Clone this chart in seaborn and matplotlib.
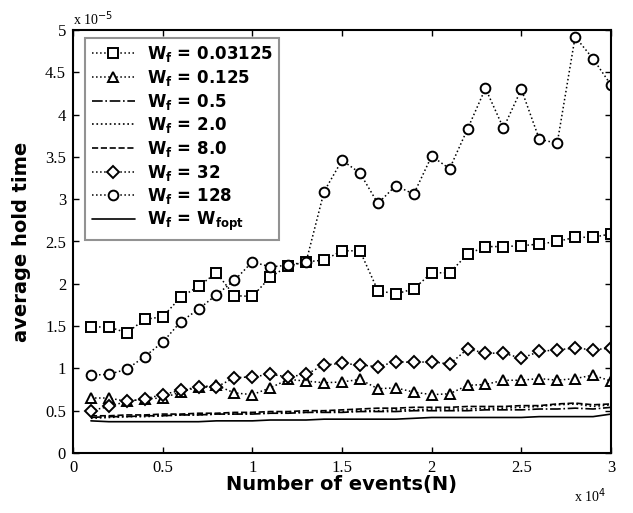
import numpy as np
import pandas as pd
import matplotlib
matplotlib.use("Agg")
import matplotlib.pyplot as plt
import seaborn as sns

# Number of events (x 10^4)
events = [0.1, 0.2, 0.3, 0.4, 0.5, 0.6, 0.7, 0.8, 0.9, 1.0,
          1.1, 1.2, 1.3, 1.4, 1.5, 1.6, 1.7, 1.8, 1.9, 2.0,
          2.1, 2.2, 2.3, 2.4, 2.5, 2.6, 2.7, 2.8, 2.9, 3.0]

# average hold time (x 10^-5)
w_003125 = [1.49, 1.49, 1.42, 1.58, 1.61, 1.84, 1.97, 2.13, 1.86, 1.85,
            2.08, 2.21, 2.26, 2.28, 2.39, 2.39, 1.92, 1.88, 1.94, 2.13,
            2.13, 2.35, 2.44, 2.44, 2.45, 2.47, 2.50, 2.55, 2.55, 2.59]
w_0125 = [0.65, 0.65, 0.61, 0.64, 0.65, 0.72, 0.78, 0.80, 0.71, 0.69,
          0.77, 0.87, 0.85, 0.83, 0.84, 0.87, 0.76, 0.77, 0.72, 0.69,
          0.70, 0.80, 0.81, 0.86, 0.86, 0.88, 0.86, 0.88, 0.92, 0.85]
w_05 = [0.42, 0.43, 0.43, 0.44, 0.44, 0.45, 0.45, 0.46, 0.46, 0.46,
        0.47, 0.47, 0.48, 0.48, 0.48, 0.49, 0.49, 0.49, 0.50, 0.50,
        0.50, 0.50, 0.51, 0.51, 0.51, 0.52, 0.52, 0.53, 0.52, 0.54]
w_20 = [0.41, 0.42, 0.43, 0.43, 0.44, 0.45, 0.45, 0.46, 0.46, 0.47,
        0.47, 0.48, 0.48, 0.49, 0.49, 0.50, 0.50, 0.51, 0.51, 0.52,
        0.52, 0.52, 0.53, 0.53, 0.54, 0.55, 0.57, 0.58, 0.55, 0.57]
w_80 = [0.44, 0.44, 0.45, 0.45, 0.46, 0.46, 0.47, 0.47, 0.48, 0.48,
        0.49, 0.49, 0.50, 0.50, 0.51, 0.52, 0.53, 0.53, 0.54, 0.54,
        0.54, 0.55, 0.55, 0.55, 0.56, 0.56, 0.58, 0.59, 0.57, 0.58]
w_32 = [0.50, 0.55, 0.61, 0.64, 0.69, 0.74, 0.78, 0.78, 0.89, 0.90,
        0.93, 0.90, 0.93, 1.04, 1.06, 1.04, 1.02, 1.08, 1.07, 1.08,
        1.05, 1.23, 1.18, 1.18, 1.12, 1.20, 1.22, 1.24, 1.22, 1.24]
w_128 = [0.92, 0.93, 0.99, 1.14, 1.31, 1.55, 1.70, 1.87, 2.04, 2.26,
         2.20, 2.22, 2.26, 3.09, 3.46, 3.31, 2.95, 3.16, 3.06, 3.51,
         3.36, 3.83, 4.31, 3.84, 4.30, 3.71, 3.66, 4.92, 4.66, 4.35]
w_fopt = [0.38, 0.37, 0.37, 0.37, 0.37, 0.37, 0.37, 0.38, 0.38, 0.38,
          0.39, 0.39, 0.39, 0.40, 0.40, 0.40, 0.40, 0.40, 0.41, 0.42,
          0.42, 0.42, 0.42, 0.42, 0.42, 0.43, 0.43, 0.43, 0.43, 0.46]

labels = [r"$\mathbf{W_f}$ = 0.03125", r"$\mathbf{W_f}$ = 0.125", r"$\mathbf{W_f}$ = 0.5",
          r"$\mathbf{W_f}$ = 2.0", r"$\mathbf{W_f}$ = 8.0", r"$\mathbf{W_f}$ = 32",
          r"$\mathbf{W_f}$ = 128", r"$\mathbf{W_f}$ = $\mathbf{W_{fopt}}$"]
series = [w_003125, w_0125, w_05, w_20, w_80, w_32, w_128, w_fopt]
styles = [(":", "s"), (":", "^"), ("-.", None), (":", None),
          ("--", None), (":", "D"), (":", "o"), ("-", None)]

xticks = [0, 0.5, 1, 1.5, 2, 2.5, 3]
yticks = [0, 0.5, 1, 1.5, 2, 2.5, 3, 3.5, 4, 4.5, 5]

sns.set_theme(style="ticks")
plt.rcParams['font.family'] = ['DejaVu Sans']
plt.rcParams['mathtext.fontset'] = 'dejavusans'
plt.rcParams['text.color'] = 'black'
plt.rcParams['axes.labelcolor'] = 'black'
plt.rcParams['xtick.color'] = 'black'
plt.rcParams['ytick.color'] = 'black'
plt.rcParams['legend.labelcolor'] = 'black'

fig = plt.figure(figsize=(6.33, 5.13), dpi=100)
ax = fig.add_axes([73/633, 1 - 453/513, (611 - 73)/633, (453 - 30)/513])

for vals, lab, (ls, mk) in zip(series, labels, styles):
    df = pd.DataFrame({"N": events, "t": vals})
    kw = dict(linestyle=ls, color="black", linewidth=1.2 if mk is None else 1.1)
    if mk is not None:
        ms = 7 if mk != "D" else 6
        kw.update(marker=mk, markersize=ms, markerfacecolor="white",
                  markeredgecolor="black", markeredgewidth=1.4)
    sns.lineplot(data=df, x="N", y="t", ax=ax, label=lab, **kw)

ax.set_xlim(0, 3)
ax.set_ylim(0, 5)
ax.set_xticks(xticks)
ax.set_yticks(yticks)
ax.set_xticklabels([f"{v:g}" for v in xticks], family="Liberation Serif", fontsize=12)
ax.set_yticklabels([f"{v:g}" for v in yticks], family="Liberation Serif", fontsize=12)
ax.tick_params(direction="in", top=True, right=True, length=4, width=1, pad=5,
               colors="black")
for s in ax.spines.values():
    s.set_linewidth(1.5)
    s.set_color("black")

ax.set_xlabel("Number of events(N)", fontsize=14, fontweight="bold", labelpad=-1,
              color="black")
ax.set_ylabel("average hold time", fontsize=14, fontweight="bold", labelpad=10,
              color="black")

ax.text(0.0, 1.005, r"x 10$^{-5}$", transform=ax.transAxes, fontsize=10,
        family="Liberation Serif", ha="left", va="bottom", color="black")
ax.text(0.99, -0.1, r"x 10$^{4}$", transform=ax.transAxes, fontsize=10,
        family="Liberation Serif", ha="right", va="center", color="black")

leg = ax.legend(loc="upper left", bbox_to_anchor=(0.022, 0.982),
                prop={"size": 12, "weight": "bold"},
                frameon=True, fancybox=False, edgecolor="#777777",
                handlelength=2.6, labelspacing=0.22, borderpad=0.4,
                handletextpad=0.7, borderaxespad=0)
leg.get_frame().set_linewidth(1.5)
for t in leg.get_texts():
    t.set_color("black")

fig.savefig("out.png", dpi=100)
